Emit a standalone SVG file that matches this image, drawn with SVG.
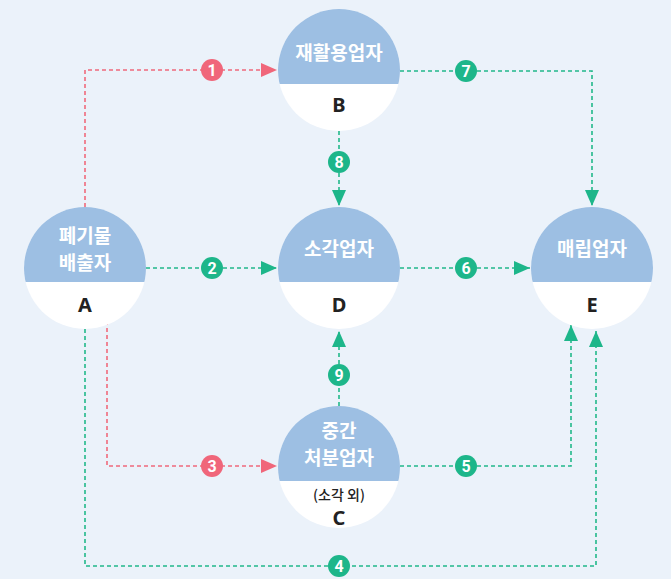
<svg xmlns="http://www.w3.org/2000/svg" width="671" height="579" viewBox="0 0 671 579">
<defs>
<style>
.bg{fill:#EBF2FA}
.top{fill:#9DBFE3}
.bot{fill:#FFFFFF}
.lbl{font-family:"Noto Sans CJK KR","Noto Sans",sans-serif;font-weight:700;font-size:19px;fill:#FFFFFF;text-anchor:middle}
.let{font-family:"Noto Sans","Noto Sans CJK KR",sans-serif;font-weight:700;font-size:20px;fill:#222222;text-anchor:middle}
.sub{font-family:"Noto Sans CJK KR","Noto Sans",sans-serif;font-weight:500;font-size:14px;fill:#222222;text-anchor:middle}
.g{stroke:#22B88A;stroke-width:1.6;fill:none;stroke-dasharray:4 3}
.r{stroke:#F06A7C;stroke-width:1.6;fill:none;stroke-dasharray:4 3}
.bg-g{fill:#1DB68A}
.bg-r{fill:#F0667A}
.num{font-family:"Liberation Sans Narrow","Roboto","Liberation Sans",sans-serif;font-weight:700;font-size:16px;fill:#FFFFFF;text-anchor:middle}
</style>
<clipPath id="cB"><circle cx="339" cy="70" r="61"/></clipPath>
<clipPath id="cA"><circle cx="85" cy="268" r="61"/></clipPath>
<clipPath id="cD"><circle cx="339" cy="268" r="61"/></clipPath>
<clipPath id="cE"><circle cx="592" cy="268" r="61"/></clipPath>
<clipPath id="cC"><circle cx="339" cy="467" r="61"/></clipPath>
<marker id="ag" markerUnits="userSpaceOnUse" markerWidth="16" markerHeight="14" refX="16" refY="7" orient="auto"><path d="M0,0 L16,7 L0,14 Z" fill="#1DB68A"/></marker>
<marker id="ar" markerUnits="userSpaceOnUse" markerWidth="16" markerHeight="14" refX="16" refY="7" orient="auto"><path d="M0,0 L16,7 L0,14 Z" fill="#F0667A"/></marker>
</defs>
<rect class="bg" x="0" y="0" width="671" height="579"/>
<g id="connectors">
<path class="r" d="M85,207 V70 H277" marker-end="url(#ar)"/>
<path class="g" d="M146,268 H277" marker-end="url(#ag)"/>
<path class="r" d="M107,321 V466 H277" marker-end="url(#ar)"/>
<path class="g" d="M85,329 V566 H596 V331" marker-end="url(#ag)"/>
<path class="g" d="M400,466 H571 V325" marker-end="url(#ag)"/>
<path class="g" d="M400,268 H530" marker-end="url(#ag)"/>
<path class="g" d="M400,71 H592 V206" marker-end="url(#ag)"/>
<path class="g" d="M339,131 V206" marker-end="url(#ag)"/>
<path class="g" d="M339,406 V331" marker-end="url(#ag)"/>
<circle class="bg-r" cx="212" cy="70" r="11"/><text class="num" x="212" y="76">1</text>
<circle class="bg-g" cx="212" cy="268" r="11"/><text class="num" x="212" y="274">2</text>
<circle class="bg-r" cx="212" cy="466" r="11"/><text class="num" x="212" y="472">3</text>
<circle class="bg-g" cx="339" cy="566" r="11"/><text class="num" x="339" y="572">4</text>
<circle class="bg-g" cx="466" cy="466" r="11"/><text class="num" x="466" y="472">5</text>
<circle class="bg-g" cx="466" cy="268" r="11"/><text class="num" x="466" y="274">6</text>
<circle class="bg-g" cx="466" cy="71" r="11"/><text class="num" x="466" y="77">7</text>
<circle class="bg-g" cx="339" cy="162" r="11"/><text class="num" x="339" y="168">8</text>
<circle class="bg-g" cx="339" cy="375" r="11"/><text class="num" x="339" y="381">9</text>
</g>
<g id="nodeB">
<circle class="bot" cx="339" cy="70" r="61"/>
<rect class="top" x="270" y="0" width="140" height="84" clip-path="url(#cB)"/>
<text class="lbl" x="339" y="60">재활용업자</text>
<text class="let" x="339" y="112">B</text>
</g>
<g id="nodeA">
<circle class="bot" cx="85" cy="268" r="61"/>
<rect class="top" x="20" y="200" width="140" height="82" clip-path="url(#cA)"/>
<text class="lbl" x="85" y="243">폐기물</text>
<text class="lbl" x="85" y="270">배출자</text>
<text class="let" x="85" y="312">A</text>
</g>
<g id="nodeD">
<circle class="bot" cx="339" cy="268" r="61"/>
<rect class="top" x="270" y="200" width="140" height="82" clip-path="url(#cD)"/>
<text class="lbl" x="339" y="256">소각업자</text>
<text class="let" x="339" y="312">D</text>
</g>
<g id="nodeE">
<circle class="bot" cx="592" cy="268" r="61"/>
<rect class="top" x="520" y="200" width="140" height="82" clip-path="url(#cE)"/>
<text class="lbl" x="592" y="256">매립업자</text>
<text class="let" x="592" y="312">E</text>
</g>
<g id="nodeC">
<circle class="bot" cx="339" cy="467" r="61"/>
<rect class="top" x="270" y="400" width="140" height="81" clip-path="url(#cC)"/>
<text class="lbl" x="339" y="438">중간</text>
<text class="lbl" x="339" y="465">처분업자</text>
<text class="sub" x="339" y="500">(소각 외)</text>
<text class="let" x="339" y="525">C</text>
</g>
</svg>
